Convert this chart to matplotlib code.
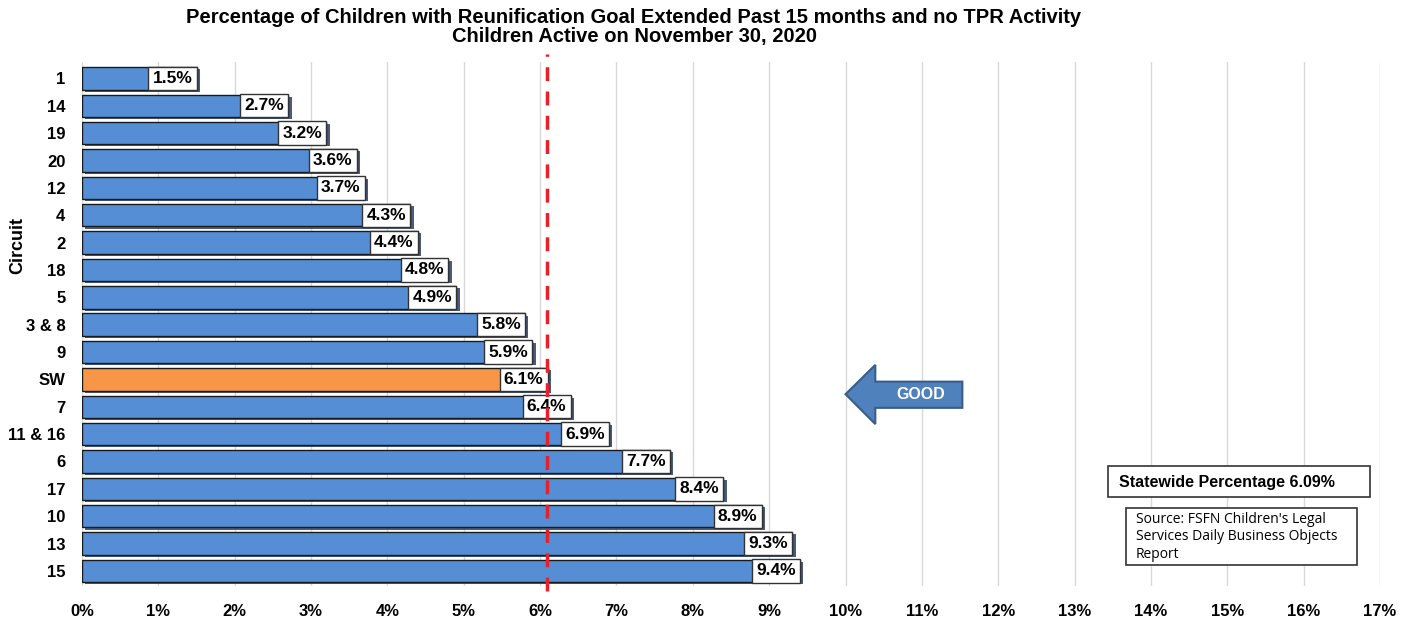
import matplotlib
matplotlib.use("Agg")
import matplotlib.pyplot as plt
import matplotlib.patheffects as pe
from matplotlib.patches import Polygon, Rectangle
from matplotlib.transforms import blended_transform_factory

plt.rcParams['font.family'] = ['Liberation Sans', 'DejaVu Sans']

circuits = ['1', '14', '19', '20', '12', '4', '2', '18', '5', '3 & 8', '9', 'SW',
            '7', '11 & 16', '6', '17', '10', '13', '15']
pct = [1.5, 2.7, 3.2, 3.6, 3.7, 4.3, 4.4, 4.8, 4.9, 5.8, 5.9, 6.1,
       6.4, 6.9, 7.7, 8.4, 8.9, 9.3, 9.4]
statewide = 6.09
xticks = list(range(0, 18))

fig = plt.figure(figsize=(14.13, 6.19), dpi=100)
ax = fig.add_axes([82 / 1413, 33 / 619, 1298 / 1413, 524 / 619])

ypos = list(range(len(circuits)))
colors = ['#f79646' if c == 'SW' else '#558ed5' for c in circuits]
bars = ax.barh(ypos, pct, height=0.82, color=colors, edgecolor='#1a1a1a',
               linewidth=1.0, zorder=3)
for b in bars:
    b.set_path_effects([pe.SimplePatchShadow(offset=(2.5, -1.5), shadow_rgbFace='#2a3f66', alpha=0.85),
                        pe.Normal()])

for y, v in zip(ypos, pct):
    ax.annotate(f'{v:.1f}%', xy=(v, y), xytext=(-3, 0), textcoords='offset points',
                ha='right', va='center', fontsize=12.5, fontweight='bold', zorder=5,
                bbox=dict(boxstyle='square,pad=0.24', fc='white', ec='#333333', lw=1))

ax.set_xlim(0, 17)
ax.set_ylim(len(circuits) - 0.45, -0.6)
ax.set_xticks(xticks)
ax.set_xticklabels([f'{t}%' for t in xticks], fontsize=12, fontweight='bold')
ax.set_yticks(ypos)
ax.set_yticklabels(circuits, fontsize=12, fontweight='bold')
ax.tick_params(length=0, pad=12)
ax.tick_params(axis='x', pad=13)
ax.grid(axis='x', color='#d9d9d9', lw=1, zorder=0)
for s in ax.spines.values():
    s.set_visible(False)

# statewide reference line
ax.axvline(statewide, ymin=-0.01, ymax=1.015, color='#e8202a', lw=2.5,
           ls=(0, (4, 3)), zorder=6, clip_on=False)

fig.text(18 / 1413, 1 - 245 / 619, 'Circuit', rotation=90, ha='center', va='center',
         fontsize=13, fontweight='bold')

fig.text(634 / 1413, 1 - 27 / 619,
         'Percentage of Children with Reunification Goal Extended Past 15 months and no TPR Activity\n'
         'Children Active on November 30, 2020',
         ha='center', va='center', fontsize=14.5, fontweight='bold', linespacing=1.0)

# "GOOD" arrow pointing left
tr = blended_transform_factory(ax.transData, ax.transAxes)
arrow = Polygon([(10.0, 0.366), (10.39, 0.422), (10.39, 0.390), (11.53, 0.390),
                 (11.53, 0.340), (10.39, 0.340), (10.39, 0.309)],
                closed=True, transform=tr, fc='#4f81bd', ec='#385d8a', lw=1.5, zorder=4)
ax.add_patch(arrow)
ax.text(10.98, 0.366, 'GOOD', transform=tr, ha='center', va='center', color='white',
        fontsize=11.5, fontweight='bold', zorder=5)

# annotation boxes
fig.patches.append(Rectangle((1108 / 1413, 1 - 497 / 619), 262 / 1413, 31 / 619,
                             transform=fig.transFigure, fc='white', ec='#333333', lw=1.2))
fig.text(1119 / 1413, 1 - 482 / 619, 'Statewide Percentage 6.09%', ha='left', va='center',
         fontsize=11.5, fontweight='bold')
fig.patches.append(Rectangle((1126 / 1413, 1 - 565 / 619), 231 / 1413, 57 / 619,
                             transform=fig.transFigure, fc='white', ec='#333333', lw=1.2))
fig.text(1136 / 1413, 1 - 537 / 619,
         "Source: FSFN Children's Legal\nServices Daily Business Objects\nReport",
         ha='left', va='center', fontsize=10, family=['Open Sans', 'DejaVu Sans'],
         linespacing=1.25)

fig.savefig('out.png', dpi=100)
